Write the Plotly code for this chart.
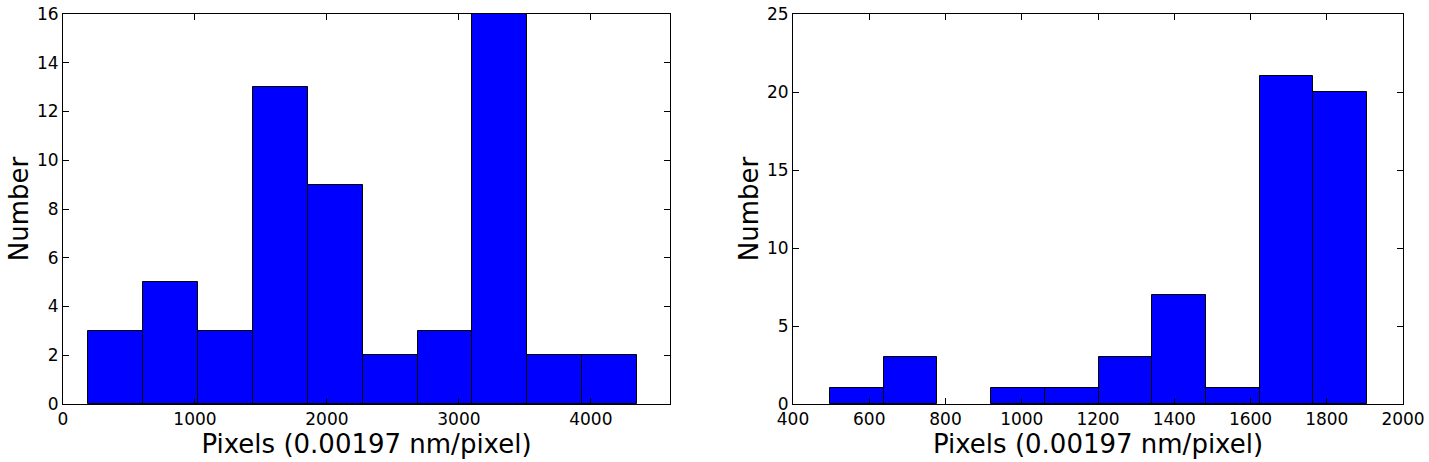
import plotly.graph_objects as go
from plotly.subplots import make_subplots

# Left histogram
left_edges = [191, 607, 1023, 1439, 1855, 2271, 2687, 3103, 3519, 3935, 4351]
left_counts = [3, 5, 3, 13, 9, 2, 3, 16, 2, 2]
left_xticks = [0, 1000, 2000, 3000, 4000]
left_yticks = [0, 2, 4, 6, 8, 10, 12, 14, 16]

# Right histogram
right_edges = [497, 638, 779, 920, 1061, 1202, 1342, 1483, 1624, 1765, 1905]
right_counts = [1, 3, 0, 1, 1, 3, 7, 1, 21, 20]
right_xticks = [400, 600, 800, 1000, 1200, 1400, 1600, 1800, 2000]
right_yticks = [0, 5, 10, 15, 20, 25]

x_title = "Pixels (0.00197 nm/pixel)"
y_title = "Number"

fig = make_subplots(rows=1, cols=2)

def add_hist(edges, counts, col):
    centers = [(edges[i] + edges[i + 1]) / 2 for i in range(len(counts))]
    widths = [edges[i + 1] - edges[i] for i in range(len(counts))]
    lw = [1 if c > 0 else 0 for c in counts]
    fig.add_trace(go.Bar(x=centers, y=counts, width=widths,
                         marker=dict(color="#0000ff", line=dict(color="black", width=lw)),
                         showlegend=False), row=1, col=col)

add_hist(left_edges, left_counts, 1)
add_hist(right_edges, right_counts, 2)

font = "DejaVu Sans, sans-serif"
axis_common = dict(showline=True, linecolor="black", linewidth=1, mirror="allticks",
                   ticks="inside", ticklen=6, tickcolor="black", showgrid=False,
                   zeroline=False, automargin=False, ticklabeloverflow="allow",
                   tickfont=dict(family=font, size=17, color="black"),
                   title_font=dict(family=font, size=26, color="black"))

fig.update_xaxes(**axis_common)
fig.update_yaxes(**axis_common)

W, H = 1429, 462
fig.update_layout(
    width=W, height=H,
    margin=dict(l=0, r=0, t=0, b=0),
    paper_bgcolor="white", plot_bgcolor="white",
    bargap=0,
    xaxis=dict(domain=[63 / W, 670 / W], range=[0, 4600], tickvals=left_xticks,
               title=dict(text=x_title, standoff=0)),
    yaxis=dict(domain=[1 - 404 / H, 1 - 14 / H], range=[0, 16], tickvals=left_yticks,
               title=dict(text=y_title, standoff=0)),
    xaxis2=dict(domain=[793 / W, 1403 / W], range=[400, 2000], tickvals=right_xticks,
                title=dict(text=x_title, standoff=0)),
    yaxis2=dict(domain=[1 - 404 / H, 1 - 14 / H], range=[0, 25], tickvals=right_yticks,
                title=dict(text=y_title, standoff=0)),
)

fig.write_html("out.html", config={"displayModeBar": False},
               post_script="document.body.style.margin='0';")
